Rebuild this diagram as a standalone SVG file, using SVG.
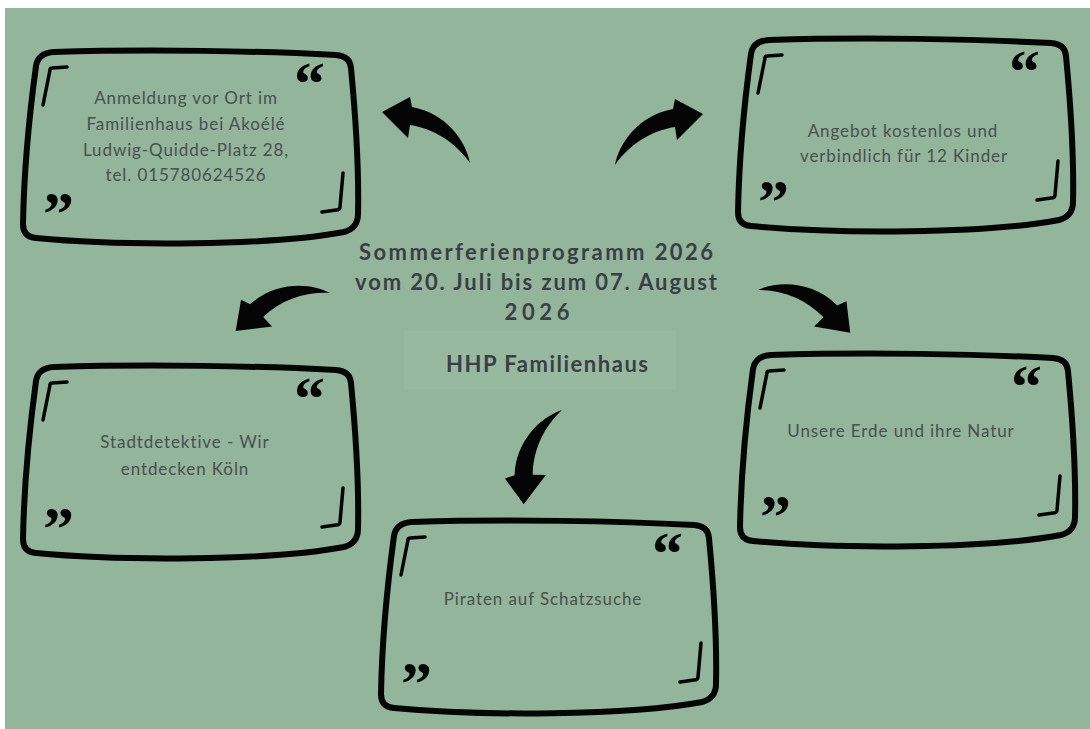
<svg xmlns="http://www.w3.org/2000/svg" width="1090" height="729" viewBox="0 0 1090 729">
<style>
.frame{fill:none;stroke:#050505;stroke-width:6;stroke-linejoin:round;stroke-linecap:round}
.brk{fill:none;stroke:#050505;stroke-width:3.5;stroke-linecap:round;stroke-linejoin:round}
.q{font-family:"Liberation Serif",serif;font-weight:bold;font-size:62px;fill:#050505}
.t{font-family:"Lato","Open Sans",sans-serif;font-size:17px;letter-spacing:0.9px;fill:#4a4f4f;text-anchor:middle}
.title{font-family:"Lato","Liberation Sans",sans-serif;font-weight:bold;font-size:22px;fill:#3b3e46;text-anchor:middle}
.arr{fill:#050505}
</style>
<defs>
<path id="frm" class="frame" d="M 34,2 C 130,-1 240,1 316,5 Q 330,6 331,18 C 335,60 339,120 338,164 Q 338,178 324,182 C 250,196 100,196 16,188 Q 3,187 3,174 C 4,120 10,60 16,16 Q 18,3 34,2 Z"/>
<g id="deco">
<path class="brk" d="M 47,17 L 32,18 Q 30,18 30,20 L 23,55"/>
<path class="brk" d="M 323,123 L 320,157 Q 320,160 316,160 L 302,162"/>
<text class="q" x="274" y="54">“</text>
<text class="q" x="23" y="184">”</text>
</g>
<path id="arrow" class="arr" d="M 0,0 C -4,-22 -24,-50 -58,-56 L -60,-66 L -88,-51 L -62,-25 L -60,-38 C -35,-34 -14,-20 0,0 Z"/>
</defs>
<rect x="0" y="0" width="1090" height="729" fill="#ffffff"/>
<rect x="5" y="8" width="1085" height="721" fill="#92b59b"/>

<g id="center">
<text class="title" x="536" y="260" textLength="354" lengthAdjust="spacing">Sommerferienprogramm 2026</text>
<text class="title" x="536" y="290" textLength="362" lengthAdjust="spacing">vom 20. Juli bis zum 07. August</text>
<text class="title" x="537" y="320" textLength="65" lengthAdjust="spacing">2026</text>
<rect x="404" y="331" width="272" height="58" fill="#97b99f"/>
<text class="title" x="547" y="372" textLength="202" lengthAdjust="spacing">HHP Familienhaus</text>
</g>

<g id="connectors">
<use href="#arrow" transform="translate(470,163)"/>
<use href="#arrow" transform="translate(615,165) scale(-1,1)"/>
<use href="#arrow" transform="translate(330,293) rotate(-52)"/>
<use href="#arrow" transform="translate(758,290) scale(-1,1) rotate(-55)"/>
<use href="#arrow" transform="translate(562,410) rotate(-98)"/>
</g>

<g id="box-anmeldung" transform="translate(20,50)">
<use href="#frm"/><use href="#deco"/>
<text class="t" x="166" y="54">Anmeldung vor Ort im</text>
<text class="t" x="166" y="80">Familienhaus bei Akoélé</text>
<text class="t" x="166" y="106">Ludwig-Quidde-Platz 28,</text>
<text class="t" x="166" y="131">tel. 015780624526</text>
</g>

<g id="box-angebot" transform="translate(735,38)">
<use href="#frm"/><use href="#deco"/>
<text class="t" x="168" y="99">Angebot kostenlos und</text>
<text class="t" x="169" y="124">verbindlich für 12 Kinder</text>
</g>

<g id="box-stadtdetektive" transform="translate(20,365)">
<use href="#frm"/><use href="#deco"/>
<text class="t" x="165" y="83">Stadtdetektive - Wir</text>
<text class="t" x="165" y="110">entdecken Köln</text>
</g>

<g id="box-piraten" transform="translate(378,520)">
<use href="#frm"/><use href="#deco"/>
<text class="t" x="165" y="85">Piraten auf Schatzsuche</text>
</g>

<g id="box-erde" transform="translate(737,353)">
<use href="#frm"/><use href="#deco"/>
<text class="t" x="164" y="84">Unsere Erde und ihre Natur</text>
</g>
</svg>
